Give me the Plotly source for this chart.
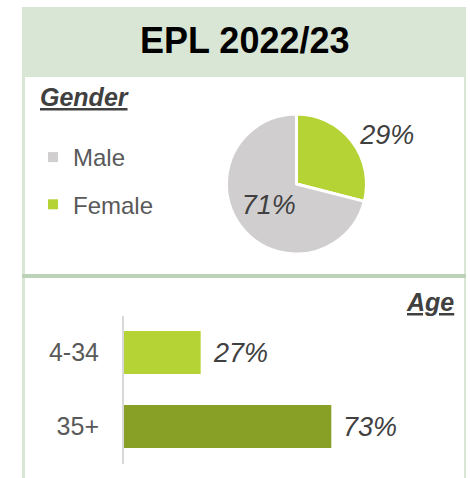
import plotly.graph_objects as go

# ---- data ----
title_text = "EPL 2022/23"
gender_labels = ["Male", "Female"]
gender_values = [71, 29]
age_labels = ["4-34", "35+"]
age_values = [27, 73]

# ---- styles ----
W, H = 470, 478
FONT = "Liberation Sans, Arial, sans-serif"
C_MALE = "#d0cecf"
C_FEMALE = "#b5d334"
C_OLD = "#88a026"
C_HEAD = "#d9e6d5"
C_SEP = "#bcd3b8"
C_TXT = "#404040"
C_LBL = "#595959"
gender_colors = [C_MALE, C_FEMALE]
gender_textpos = ["inside", "outside"]


def X(px):
    return px / W


def Y(py):
    return 1 - py / H


fig = go.Figure()

# Pie (gender): Female drawn first so it starts at 12 o'clock going clockwise
fig.add_trace(go.Pie(
    labels=gender_labels[::-1], values=gender_values[::-1],
    marker=dict(colors=gender_colors[::-1], line=dict(color="white", width=3)),
    sort=False, direction="clockwise", rotation=0,
    texttemplate="%{percent:.0%}",
    textposition=gender_textpos[::-1],
    insidetextorientation="horizontal",
    textfont=dict(family=FONT, size=27, color=C_TXT, style="italic"),
    domain=dict(x=[X(296.5 - 70), X(296.5 + 70)], y=[Y(184 + 70), Y(184 - 70)]),
    showlegend=False, hoverinfo="label+percent",
))

# Legend entries for the pie (one group each for spacing)
for lab, col in zip(gender_labels, gender_colors):
    fig.add_trace(go.Scatter(
        x=[None], y=[None], mode="markers", name=lab, legendgroup=lab,
        marker=dict(symbol="square", size=10, color=col),
        showlegend=True, hoverinfo="skip",
    ))

# Bars (age)
fig.add_trace(go.Bar(
    x=age_values, y=age_labels, orientation="h",
    marker=dict(color=[C_FEMALE, C_OLD], line=dict(width=0)),
    width=0.58, showlegend=False, hoverinfo="x+y",
))

annotations = [
    dict(x=X(244.5), y=Y(40), xref="paper", yref="paper", text=title_text,
         showarrow=False, xanchor="center", yanchor="middle",
         font=dict(family=FONT, size=36, color="black", weight="bold")),
    dict(x=X(38), y=Y(97), xref="paper", yref="paper", text="Gender",
         showarrow=False, xanchor="left", yanchor="middle",
         font=dict(family=FONT, size=25, color=C_TXT, weight="bold",
                   style="italic", lineposition="under")),
    dict(x=X(456), y=Y(302), xref="paper", yref="paper", text="Age",
         showarrow=False, xanchor="right", yanchor="middle",
         font=dict(family=FONT, size=25, color=C_TXT, weight="bold",
                   style="italic", lineposition="under")),
]
for v, lab in zip(age_values, age_labels):
    annotations.append(dict(
        x=v, y=lab, xref="x", yref="y", text=f"{v}%", showarrow=False,
        xanchor="left", yanchor="middle", xshift=10,
        font=dict(family=FONT, size=27, color=C_TXT, style="italic")))

shapes = [
    dict(type="rect", xref="paper", yref="paper", x0=X(22), x1=X(466),
         y0=Y(7), y1=Y(490), fillcolor=C_HEAD, line=dict(width=0), layer="below"),
    dict(type="rect", xref="paper", yref="paper", x0=X(25), x1=X(464),
         y0=Y(77), y1=Y(274), fillcolor="white", line=dict(width=0), layer="below"),
    dict(type="rect", xref="paper", yref="paper", x0=X(22), x1=X(466),
         y0=Y(274), y1=Y(278), fillcolor=C_SEP, line=dict(width=0), layer="below"),
    dict(type="rect", xref="paper", yref="paper", x0=X(25), x1=X(464),
         y0=Y(278), y1=Y(490), fillcolor="white", line=dict(width=0), layer="below"),
]

fig.update_layout(
    width=W, height=H,
    margin=dict(l=0, r=0, t=0, b=0),
    paper_bgcolor="white", plot_bgcolor="rgba(0,0,0,0)",
    font=dict(family=FONT, color=C_LBL),
    xaxis=dict(domain=[X(124), X(408)], range=[0, 100], visible=False, fixedrange=True),
    yaxis=dict(domain=[Y(463.5), Y(315.5)], type="category",
               categoryorder="array", categoryarray=age_labels,
               range=[1.5, -0.5], showline=True, linecolor="#d9d9d9", linewidth=2,
               showgrid=False, zeroline=False, ticks="", ticklabelstandoff=18,
               tickfont=dict(family=FONT, size=25, color=C_LBL), fixedrange=True),
    legend=dict(x=X(33), y=Y(135), xanchor="left", yanchor="top",
                bgcolor="rgba(0,0,0,0)", borderwidth=0, tracegroupgap=13,
                font=dict(family=FONT, size=24, color=C_LBL)),
    annotations=annotations,
    shapes=shapes,
    bargap=0.42,
)

fig.write_html(
    "out.html",
    config={"displayModeBar": False},
    post_script="document.body.style.margin='0';document.body.style.overflow='hidden';",
)
